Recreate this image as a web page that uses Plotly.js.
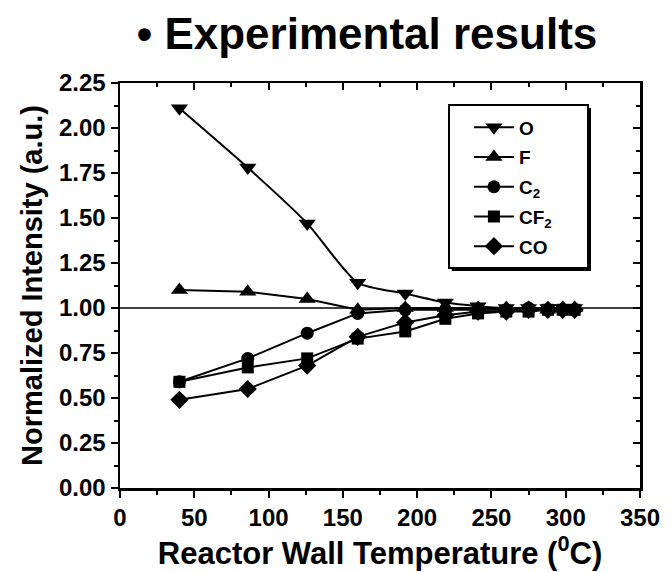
<!DOCTYPE html>
<html>
<head>
<meta charset="utf-8">
<script src="https://cdn.plot.ly/plotly-3.0.1.min.js"></script>
<style>html,body{margin:0;padding:0;background:#fff;}#chart{width:671px;height:572px;}</style>
</head>
<body>
<div id="chart"></div>
<script>
// Reactor wall temperature (deg C)
const temps = [40, 86, 126, 160, 192, 219, 241, 260, 275, 288, 298, 306];
// Normalized intensities (a.u.)
const O_vals   = [2.11, 1.78, 1.47, 1.14, 1.08, 1.03, 1.01, 1.00, 1.00, 1.00, 1.00, 1.00];
const F_vals   = [1.10, 1.09, 1.05, 0.99, 1.00, 1.00, 1.00, 1.00, 1.00, 0.99, 1.00, 1.00];
const C2_vals  = [0.59, 0.72, 0.86, 0.97, 0.99, 0.99, 0.99, 0.99, 1.00, 0.99, 0.99, 0.99];
const CF2_vals = [0.59, 0.67, 0.72, 0.83, 0.87, 0.94, 0.97, 0.98, 0.98, 0.99, 0.99, 0.99];
const CO_vals  = [0.49, 0.55, 0.68, 0.84, 0.92, 0.96, 0.98, 0.98, 0.99, 0.99, 0.99, 0.99];
const seriesNames = ['O', 'F', 'C<sub>2</sub>', 'CF<sub>2</sub>', 'CO'];
const xTickVals = [0, 50, 100, 150, 200, 250, 300, 350];
const yTickVals = [0, 0.25, 0.5, 0.75, 1.0, 1.25, 1.5, 1.75, 2.0, 2.25];
const yTickText = ['0.00', '0.25', '0.50', '0.75', '1.00', '1.25', '1.50', '1.75', '2.00', '2.25'];
const refLevel = 1.0;

const FONT = 'Liberation Sans, Arial, sans-serif';
const series = [O_vals, F_vals, C2_vals, CF2_vals, CO_vals];
const symbols = ['triangle-down', 'triangle-up', 'circle', 'square', 'diamond'];
const sizes = [15, 15, 13, 12, 14];

const traces = series.map((vals, i) => ({
  x: temps, y: vals, name: seriesNames[i], type: 'scatter', mode: 'lines+markers',
  legendgroup: 'g' + i,
  line: {color: '#000', width: 2, shape: i === 0 ? 'spline' : 'linear', smoothing: 0.6},
  marker: {symbol: symbols[i], size: sizes[i], color: '#000', line: {color: '#000', width: 0}}
}));
traces.push({x: [], y: [], xaxis: 'x2', yaxis: 'y2', showlegend: false, hoverinfo: 'skip', type: 'scatter'});

const axCommon = {
  showline: true, linecolor: '#000', linewidth: 2.5, showgrid: false, zeroline: false,
  tickcolor: '#000', tickwidth: 2, ticklen: 7
};

const layout = {
  width: 671, height: 572,
  margin: {l: 120, r: 31, t: 83, b: 84},
  paper_bgcolor: '#fff', plot_bgcolor: '#fff',
  font: {family: FONT, color: '#000'},
  title: {text: '\u2022 Experimental results', font: {family: FONT, size: 44, weight: 'bold', color: '#000'},
          xref: 'container', x: 0.547, xanchor: 'center', yref: 'container', y: 0.968, yanchor: 'top'},
  xaxis: Object.assign({}, axCommon, {
    range: [0, 350], tickvals: xTickVals, ticks: 'outside',
    minor: {dtick: 25, ticks: 'outside', ticklen: 4, tickcolor: '#000', tickwidth: 2},
    tickfont: {family: FONT, size: 24, weight: 'bold'},
    title: {text: 'Reactor Wall Temperature (<sup>0</sup>C)', font: {family: FONT, size: 31, weight: 'bold'}, standoff: 10}
  }),
  yaxis: Object.assign({}, axCommon, {
    range: [0, 2.25], tickvals: yTickVals, ticktext: yTickText, ticks: 'outside',
    minor: {dtick: 0.125, ticks: 'outside', ticklen: 4, tickcolor: '#000', tickwidth: 2},
    tickfont: {family: FONT, size: 24, weight: 'bold'},
    title: {text: 'Normalized Intensity (a.u.)', font: {family: FONT, size: 29, weight: 'bold'}, standoff: 8}
  }),
  xaxis2: Object.assign({}, axCommon, {
    overlaying: 'x', side: 'top', anchor: 'y2', range: [0, 350], tickvals: xTickVals,
    ticks: 'inside', showticklabels: false, ticklen: 7,
    minor: {dtick: 25, ticks: 'inside', ticklen: 4, tickcolor: '#000', tickwidth: 2}
  }),
  yaxis2: Object.assign({}, axCommon, {
    overlaying: 'y', side: 'right', anchor: 'x2', range: [0, 2.25], tickvals: yTickVals,
    ticks: 'inside', showticklabels: false, ticklen: 7,
    minor: {dtick: 0.125, ticks: 'inside', ticklen: 4, tickcolor: '#000', tickwidth: 2}
  }),
  shapes: [
    {type: 'line', xref: 'paper', x0: 0, x1: 1, yref: 'y', y0: refLevel, y1: refLevel, line: {color: '#000', width: 1.5}},
    // legend frame: shadow then box
    {type: 'rect', layer: 'above', xref: 'paper', yref: 'paper', x0: 0.638, x1: 0.9058, y0: 0.5358, y1: 0.938,
     fillcolor: '#000', line: {width: 0}},
    {type: 'rect', layer: 'above', xref: 'paper', yref: 'paper', x0: 0.6327, x1: 0.9, y0: 0.5432, y1: 0.9457,
     fillcolor: '#fff', line: {color: '#000', width: 2}}
  ],
  showlegend: true,
  legend: {
    x: 0.671, y: 0.937, xanchor: 'left', yanchor: 'top',
    bgcolor: 'rgba(0,0,0,0)', borderwidth: 0,
    font: {family: FONT, size: 19, weight: 'bold', color: '#000'},
    tracegroupgap: 2, itemwidth: 40
  }
};

Plotly.newPlot('chart', traces, layout, {staticPlot: true, displayModeBar: false});
</script>
</body>
</html>
